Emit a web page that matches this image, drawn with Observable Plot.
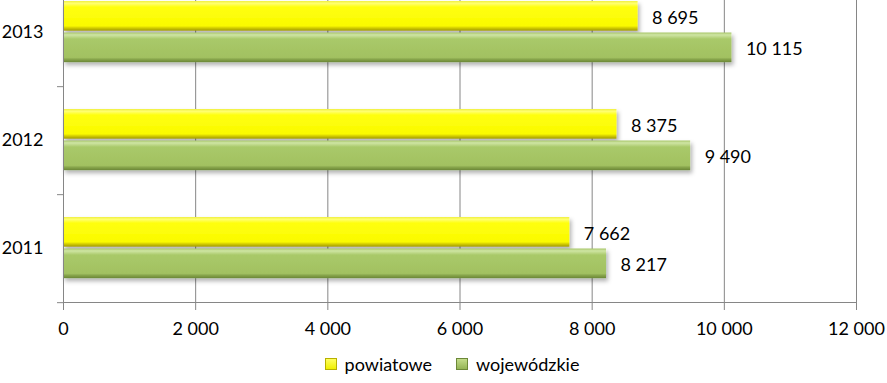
<!DOCTYPE html>
<html>
<head>
<meta charset="utf-8">
<script src="https://cdn.jsdelivr.net/npm/d3@7"></script>
<script src="https://cdn.jsdelivr.net/npm/@observablehq/plot@0.6"></script>
<style>
  body { margin: 0; background: #fff; font-family: Lato, "Open Sans", sans-serif; }
  #legend { display: flex; justify-content: center; align-items: center; height: 38px; font-size: 18px; color: #000; padding-left: 17px; box-sizing: border-box; width: 887px; }
  .item { display: flex; align-items: center; margin: 0 12px; }
  .sw { width: 10px; height: 10px; margin-right: 8px; border: 1px solid; }
</style>
</head>
<body>
<div id="chart"></div>
<div id="legend">
  <div class="item"><span class="sw" style="background:linear-gradient(#ffff60,#f0f000);border-color:#b8b000"></span>powiatowe</div>
  <div class="item"><span class="sw" style="background:linear-gradient(#c3dc8a,#94b455);border-color:#6c8838"></span>wojewódzkie</div>
</div>
<script>
const years = ["2013", "2012", "2011"];
const powiatowe = [8695, 8375, 7662];
const wojewodzkie = [10115, 9490, 8217];
const xTicks = [0, 2000, 4000, 6000, 8000, 10000, 12000];

const locale = d3.formatLocale({decimal: ",", thousands: "\u00a0", grouping: [3]});
const fmt = locale.format(",d");

const rowsP = years.map((y, i) => ({year: y, value: powiatowe[i]}));
const rowsW = years.map((y, i) => ({year: y, value: wojewodzkie[i]}));

const H = 345, MT = -23, MB = 43;
const bw = (H - MB - MT) / years.length;
const grid = "#868686";

const plot = Plot.plot({
  width: 887,
  height: H,
  marginLeft: 63,
  marginRight: 31,
  marginTop: MT,
  marginBottom: MB,
  style: {fontFamily: "Lato, 'Open Sans', sans-serif", fontSize: "18px", color: "#000", background: "#fff", overflow: "visible"},
  x: {domain: [0, 12000], label: null},
  y: {domain: years, padding: 0, label: null},
  marks: [
    Plot.ruleX(xTicks.filter(d => d > 0), {stroke: grid, strokeWidth: 1, strokeOpacity: 1}),
    Plot.barX(rowsP, {y: "year", x: "value", fill: "url(#gy)", insetTop: 23, insetBottom: bw - 53, filter: null, className: "bars"}),
    Plot.barX(rowsW, {y: "year", x: "value", fill: "url(#gg)", insetTop: 54.5, insetBottom: bw - 84.5, className: "bars"}),
    Plot.ruleX([0], {stroke: grid, strokeOpacity: 1}),
    Plot.frame({anchor: "bottom", stroke: grid, strokeOpacity: 1}),
    Plot.axisX({ticks: xTicks, tickFormat: fmt, tickSize: 8, tickPadding: 12, stroke: grid, strokeOpacity: 1, fontSize: 18, label: null}),
    Plot.axisY({tickSize: 0, tickPadding: 20, fontSize: 18, label: null}),
    Plot.axisY({tickSize: 6, tickFormat: () => "", dy: bw / 2, stroke: grid, strokeOpacity: 1, label: null}),
    Plot.text(rowsP, {y: "year", x: "value", text: d => fmt(d.value), dx: 14, dy: -14, textAnchor: "start", fontSize: 18, fill: "#000"}),
    Plot.text(rowsW, {y: "year", x: "value", text: d => fmt(d.value), dx: 14, dy: 17, textAnchor: "start", fontSize: 18, fill: "#000"})
  ]
});

const svgNS = "http://www.w3.org/2000/svg";
const defs = document.createElementNS(svgNS, "defs");
defs.innerHTML = `
  <linearGradient id="gy" x1="0" y1="0" x2="0" y2="1">
    <stop offset="0" stop-color="#f0f040"/>
    <stop offset="0.08" stop-color="#ffff70"/>
    <stop offset="0.2" stop-color="#ffff10"/>
    <stop offset="0.84" stop-color="#fafa00"/>
    <stop offset="0.9" stop-color="#d8d200"/>
    <stop offset="1" stop-color="#a09a00"/>
  </linearGradient>
  <linearGradient id="gg" x1="0" y1="0" x2="0" y2="1">
    <stop offset="0" stop-color="#a8c66a"/>
    <stop offset="0.08" stop-color="#cfe5a4"/>
    <stop offset="0.22" stop-color="#a9c969"/>
    <stop offset="0.84" stop-color="#a2c161"/>
    <stop offset="0.9" stop-color="#88a64c"/>
    <stop offset="1" stop-color="#6a8636"/>
  </linearGradient>
  <filter id="sh" x="-5%" y="-30%" width="115%" height="180%">
    <feDropShadow dx="2" dy="3" stdDeviation="2" flood-color="#000" flood-opacity="0.3"/>
  </filter>`;
plot.insertBefore(defs, plot.firstChild);
plot.querySelectorAll("g[aria-label='bar']").forEach(g => g.setAttribute("filter", "url(#sh)"));
document.getElementById("chart").appendChild(plot);
</script>
</body>
</html>
